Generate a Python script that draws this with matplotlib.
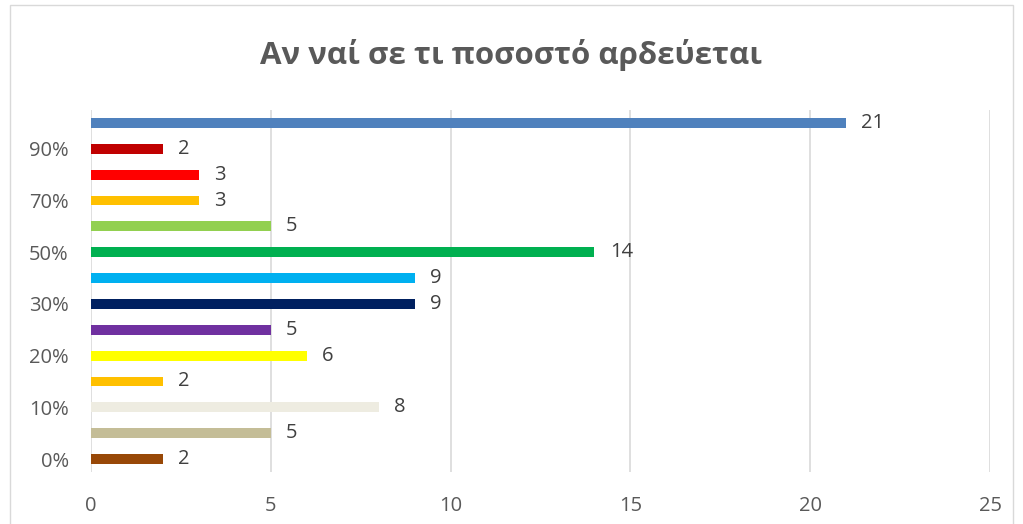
import matplotlib
matplotlib.use('Agg')
import matplotlib.pyplot as plt
from matplotlib.patches import Rectangle

plt.rcParams['font.family'] = ['Open Sans', 'DejaVu Sans']

# data, bottom to top
categories = ['0%', '5%', '10%', '15%', '20%', '25%', '30%',
              '40%', '50%', '60%', '70%', '80%', '90%', '100%']
counts = [2, 5, 8, 2, 6, 5, 9, 9, 14, 5, 3, 3, 2, 21]
colors = ['#984807', '#C4BD97', '#EEECE1', '#FFC000', '#FFFF00', '#7030A0', '#002060',
          '#00B0F0', '#00B050', '#92D050', '#FFC000', '#FF0000', '#C00000', '#4F81BD']
title = 'Αν ναί σε τι ποσοστό αρδεύεται'

fig = plt.figure(figsize=(10.23, 5.24), dpi=100)
ax = fig.add_axes([91 / 1023, 1 - 472 / 524, (990 - 91) / 1023, (472 - 110) / 524])

ypos = list(range(len(categories)))
ax.barh(ypos, counts, height=0.38, color=colors, zorder=3)

for y, v in zip(ypos, counts):
    ax.annotate(str(v), (v, y), xytext=(11, 0), textcoords='offset points',
                va='center', ha='left', fontsize=14.5, color='#404040')

ax.set_xlim(0, 25)
ax.set_ylim(-0.5, len(categories) - 0.5)
ax.set_xticks(range(0, 26, 5))
ax.set_yticks(ypos)
ax.set_yticklabels([c if i % 2 == 0 else '' for i, c in enumerate(categories)])
ax.tick_params(length=0, labelsize=14.5, labelcolor='#595959')
ax.tick_params(axis='x', pad=17)
ax.tick_params(axis='y', pad=16)
ax.grid(axis='x', color='#D9D9D9', linewidth=1.2, zorder=0)
for s in ax.spines.values():
    s.set_visible(False)

fig.text(0.5, 1 - 55 / 524, title, ha='center', va='center',
         fontsize=22.5, fontweight='bold', color='#595959')

fig.patches.append(Rectangle((10 / 1023, -0.01), 1003 / 1023, 1.0, transform=fig.transFigure,
                             fill=False, edgecolor='#D9D9D9', linewidth=1))

fig.savefig('out.png', dpi=100)
